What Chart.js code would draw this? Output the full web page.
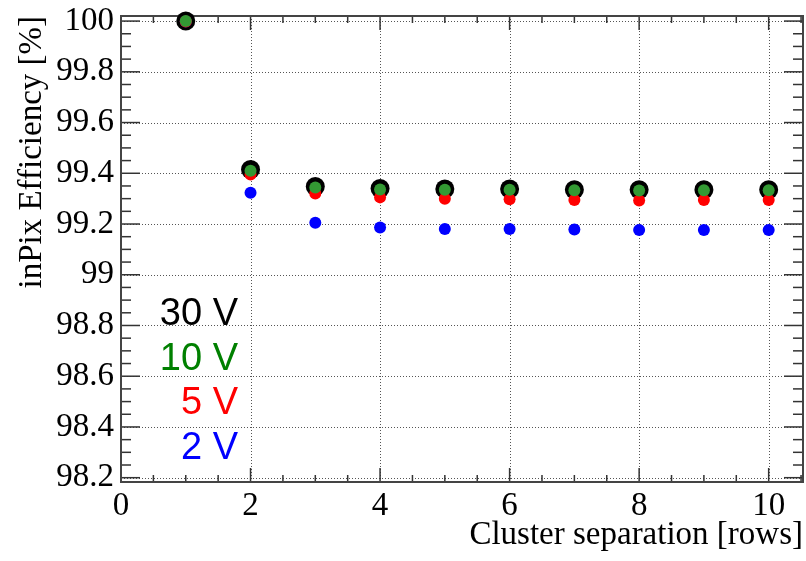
<!DOCTYPE html>
<html>
<head>
<meta charset="utf-8">
<script src="https://cdn.jsdelivr.net/npm/chart.js@4"></script>
<style>
  body { margin: 0; background: #fff; }
</style>
</head>
<body>
<canvas id="c" width="806" height="561"></canvas>
<script>
// cluster separation in rows
let separation = [1, 2, 3, 4, 5, 6, 7, 8, 9, 10]

// efficiency [%] per bias voltage
let eff30 = [100, 99.415, 99.348, 99.340, 99.338, 99.338, 99.335, 99.335, 99.335, 99.335]
let eff10 = [100, 99.410, 99.344, 99.336, 99.335, 99.335, 99.333, 99.332, 99.333, 99.333]
let eff5 = [99.998, 99.395, 99.320, 99.305, 99.300, 99.298, 99.295, 99.293, 99.295, 99.295]
let eff2 = [99.998, 99.323, 99.205, 99.186, 99.180, 99.180, 99.178, 99.176, 99.176, 99.176]

let labels = ['30 V', '10 V', '5 V', '2 V']
let textColors = ['#000000', '#008000', '#ff0000', '#0000ff']

function points(ys) {
    return separation.map(function (x, i) { return { x: x, y: ys[i] } })
}

let serif = '"Liberation Serif", "Times New Roman", serif'

// ROOT style frame, dotted grid and inward ticks
let rootFrame = {
    id: 'rootFrame',
    beforeDatasetsDraw(chart) {
        let ctx = chart.ctx
        let a = chart.chartArea
        let xs = chart.scales.x
        let ys = chart.scales.y
        ctx.save()

        // dotted grid at major ticks
        ctx.strokeStyle = '#555'
        ctx.lineWidth = 1
        ctx.setLineDash([1, 2])
        xs.ticks.forEach(function (t) {
            let px = Math.round(xs.getPixelForValue(t.value)) + 0.5
            if (px <= a.left + 2 || px >= a.right - 2) return
            ctx.beginPath(); ctx.moveTo(px, a.top); ctx.lineTo(px, a.bottom); ctx.stroke()
        })
        ys.ticks.forEach(function (t) {
            let py = Math.round(ys.getPixelForValue(t.value)) + 0.5
            if (py <= a.top + 2 || py >= a.bottom - 2) return
            ctx.beginPath(); ctx.moveTo(a.left, py); ctx.lineTo(a.right, py); ctx.stroke()
        })
        ctx.setLineDash([])

        // ticks
        ctx.strokeStyle = '#333'
        ctx.lineWidth = 1.5
        for (let v = 0; v <= 10.5001; v += 0.5) {
            let px = xs.getPixelForValue(v)
            if (px > a.right) break
            let major = Math.abs(v / 2 - Math.round(v / 2)) < 1e-6
            let len = major ? 14 : 7
            ctx.beginPath(); ctx.moveTo(px, a.bottom); ctx.lineTo(px, a.bottom - len); ctx.stroke()
            ctx.beginPath(); ctx.moveTo(px, a.top); ctx.lineTo(px, a.top + len); ctx.stroke()
        }
        for (let k = 0; k <= 36; k++) {
            let v = 98.2 + k * 0.05
            let py = ys.getPixelForValue(v)
            let major = k % 4 === 0
            let len = major ? 19 : 10
            ctx.beginPath(); ctx.moveTo(a.left, py); ctx.lineTo(a.left + len, py); ctx.stroke()
            ctx.beginPath(); ctx.moveTo(a.right, py); ctx.lineTo(a.right - len, py); ctx.stroke()
        }

        // frame
        ctx.strokeStyle = '#444'
        ctx.lineWidth = 2
        ctx.strokeRect(a.left, a.top, a.right - a.left, a.bottom - a.top)
        ctx.restore()
    },
    afterDraw(chart) {
        let ctx = chart.ctx
        ctx.save()
        ctx.font = '38px "Liberation Sans", Arial, sans-serif'
        ctx.textAlign = 'right'
        ctx.textBaseline = 'alphabetic'
        for (let i = 0; i < labels.length; i++) {
            ctx.fillStyle = textColors[i]
            ctx.fillText(labels[i], 238, 325 + i * 44.5)
        }
        ctx.restore()
    }
}

new Chart(document.getElementById('c'), {
    type: 'scatter',
    data: {
        datasets: [
            { label: '30 V', data: points(eff30), backgroundColor: '#000000', pointRadius: 9.5, order: 3 },
            { label: '10 V', data: points(eff10), backgroundColor: '#339933', pointRadius: 6, order: 0 },
            { label: '5 V', data: points(eff5), backgroundColor: '#ff0000', pointRadius: 6, order: 1 },
            { label: '2 V', data: points(eff2), backgroundColor: '#0000ff', pointRadius: 6, order: 2 }
        ]
    },
    options: {
        responsive: false,
        animation: false,
        devicePixelRatio: 1,
        layout: { autoPadding: false, padding: { top: 16, right: 3, left: 0, bottom: 0 } },
        elements: { point: { borderWidth: 0, hoverRadius: 6 } },
        datasets: { scatter: { clip: false } },
        plugins: { legend: { display: false }, tooltip: { enabled: false } },
        scales: {
            x: {
                type: 'linear',
                min: 0,
                max: 10.53,
                grid: { display: false, drawTicks: false },
                border: { display: false },
                ticks: {
                    stepSize: 2,
                    includeBounds: false,
                    autoSkip: false,
                    maxRotation: 0,
                    padding: 5,
                    color: '#000',
                    font: { family: serif, size: 33 }
                },
                title: {
                    display: true,
                    text: 'Cluster separation [rows]',
                    align: 'end',
                    color: '#000',
                    font: { family: serif, size: 33 },
                    padding: { top: 0, bottom: 6 }
                },
                afterFit(scale) {
                    scale.height = 79
                    scale.paddingLeft = 0
                    scale.paddingRight = 0
                }
            },
            y: {
                type: 'linear',
                min: 98.183,
                max: 100.02,
                grid: { display: false, drawTicks: false },
                border: { display: false },
                ticks: {
                    stepSize: 0.2,
                    includeBounds: false,
                    autoSkip: false,
                    padding: 7,
                    color: '#000',
                    font: { family: serif, size: 33 },
                    callback: function (v) { return String(Number(v.toFixed(1))) }
                },
                title: {
                    display: true,
                    text: 'inPix Efficiency [%]',
                    align: 'end',
                    color: '#000',
                    font: { family: serif, size: 33 },
                    padding: { top: 13, bottom: 0 }
                },
                afterFit(scale) {
                    scale.width = 121
                    scale.paddingTop = 0
                    scale.paddingBottom = 0
                }
            }
        }
    },
    plugins: [rootFrame]
})
</script>
</body>
</html>
